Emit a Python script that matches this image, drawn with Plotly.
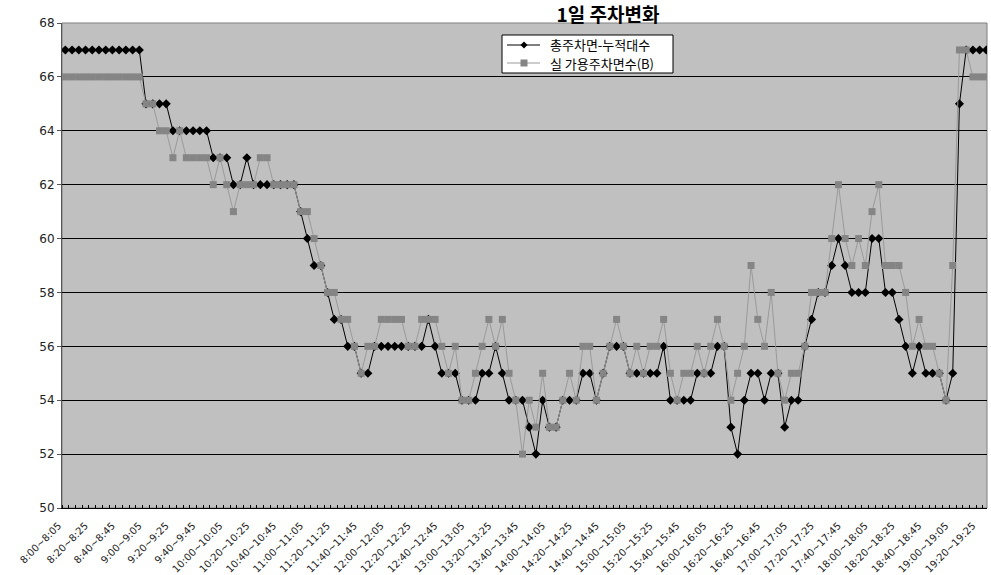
import plotly.graph_objects as go

# 5-minute time slots starting at 8:00
slots = [
    f"{(480 + 5 * i) // 60}:{(480 + 5 * i) % 60:02d}~{(485 + 5 * i) // 60}:{(485 + 5 * i) % 60:02d}"
    for i in range(138)
]

# 총주차면-누적대수
total_minus_cum = [
    67, 67, 67, 67, 67, 67, 67, 67, 67, 67, 67, 67,
    65, 65, 65, 65,
    64, 64, 64, 64, 64, 64,
    63, 63, 63,
    62, 62, 63, 62, 62, 62, 62, 62, 62, 62,
    61, 60, 59, 59, 58, 57, 57, 56, 56, 55, 55,
    56, 56, 56, 56, 56, 56, 56, 56,
    57, 56, 55, 55, 55, 54, 54, 54, 55, 55, 56, 55,
    54, 54, 54, 53, 52, 54, 53, 53, 54, 54, 54, 55, 55, 54, 55,
    56, 56, 56, 55, 55, 55, 55, 55, 56, 54, 54, 54, 54,
    55, 55, 55, 56, 56, 53, 52, 54, 55, 55, 54, 55, 55, 53, 54, 54,
    56, 57, 58, 58, 59, 60, 59, 58, 58, 58, 60, 60, 58, 58, 57, 56, 55, 56,
    55, 55, 55, 54, 55, 65, 67, 67, 67, 67,
]

# 실 가용주차면수(B)
available = [
    66, 66, 66, 66, 66, 66, 66, 66, 66, 66, 66, 66,
    65, 65, 64, 64, 63, 64, 63, 63, 63, 63,
    62, 63, 62, 61, 62, 62, 62, 63, 63, 62, 62, 62, 62,
    61, 61, 60, 59, 58, 58, 57, 57, 56, 55, 56, 56,
    57, 57, 57, 57, 56, 56, 57, 57, 57, 56, 55, 56, 54, 54,
    55, 56, 57, 56, 57, 55, 54, 52, 54, 53, 55, 53, 53, 54, 55, 54,
    56, 56, 54, 55, 56, 57, 56, 55, 56, 55, 56, 56, 57, 55, 54,
    55, 55, 56, 55, 56, 57, 56, 54, 55, 56, 59, 57, 56, 58, 55, 54,
    55, 55, 56, 58, 58, 58, 60, 62, 60, 59, 60, 59, 61, 62,
    59, 59, 59, 58, 56, 57, 56, 56, 55, 54, 59, 67, 67, 66, 66, 66,
]

series_names = ["총주차면-누적대수", "실 가용주차면수(B)"]
y_ticks = [50, 52, 54, 56, 58, 60, 62, 64, 66, 68]
label_step = 4

x_idx = list(range(len(slots)))
font_kr = "Noto Sans CJK KR"

BLACK = "#000000"
GREY_LINE = "#9a9a9a"
GREY_MARK = "#858585"

# figure / plot-area geometry in pixels
W, H = 991, 575
L, R, T, B = 62, 4, 23, 67
PW, PH = W - L - R, H - T - B


def px(x):
    return (x - L) / PW


def py(y):
    return (H - B - y) / PH


fig = go.Figure()

fig.add_trace(go.Scatter(
    x=x_idx, y=total_minus_cum, name=series_names[0],
    mode="lines+markers", showlegend=False,
    line=dict(color=BLACK, width=1),
    marker=dict(symbol="diamond", size=7, color=BLACK),
))

fig.add_trace(go.Scatter(
    x=x_idx, y=available, name=series_names[1],
    mode="lines+markers", showlegend=False,
    line=dict(color=GREY_LINE, width=1),
    marker=dict(symbol="square", size=7, color=GREY_MARK),
))

tick_pos = x_idx[::label_step]
tick_txt = slots[::label_step]

fig.update_layout(
    width=W, height=H,
    margin=dict(l=L, r=R, t=T, b=B),
    paper_bgcolor="#ffffff",
    plot_bgcolor="#c0c0c0",
    font=dict(family=font_kr, color="#222222"),
    title=dict(
        text="<b>1일 주차변화</b>",
        x=0.6135, xanchor="center",
        y=0.973, yanchor="middle",
        font=dict(size=19, color=BLACK, family=font_kr),
    ),
    xaxis=dict(
        range=[-0.5, 137.1], automargin=False,
        tickmode="array", tickvals=tick_pos, ticktext=tick_txt,
        tickangle=-45, tickfont=dict(size=10, color="#222222", family="DejaVu Sans"),
        ticklabelshift=-7, ticklabelstandoff=7,
        ticks="", showgrid=False, zeroline=False,
        showline=True, linecolor=BLACK, linewidth=1,
        minor=dict(ticks="inside", tickmode="linear", tick0=0.5, dtick=1,
                   ticklen=3, tickcolor=BLACK, tickwidth=1, showgrid=False),
    ),
    yaxis=dict(
        range=[50, 68], automargin=False, tickmode="array", tickvals=y_ticks,
        tickfont=dict(size=12, color="#222222", family="DejaVu Sans"),
        ticks="outside", ticklen=4, tickcolor="#555555",
        showgrid=True, gridcolor=BLACK, gridwidth=1,
        zeroline=False, showline=True, linecolor="#555555", linewidth=1,
    ),
)

# plot-area border
fig.add_shape(type="rect", xref="paper", yref="paper", x0=0, x1=1, y0=0, y1=1,
              line=dict(color="#808080", width=1), layer="below")

# legend box
lx0, lx1, ly0, ly1 = 502, 673, 35, 73
fig.add_shape(type="rect", xref="paper", yref="paper",
              x0=px(lx0), x1=px(lx1), y0=py(ly1), y1=py(ly0),
              line=dict(color=BLACK, width=1), fillcolor="#ffffff", layer="above")

rows = [45, 63]
sym_x0, sym_x1, sym_c = 507, 540, 524
for k, (ry, name) in enumerate(zip(rows, series_names)):
    col = BLACK if k == 0 else GREY_LINE
    fig.add_shape(type="line", xref="paper", yref="paper",
                  x0=px(sym_x0), x1=px(sym_x1), y0=py(ry), y1=py(ry),
                  line=dict(color=col, width=1), layer="above")
    s = 3.5
    if k == 0:
        path = (f"M {px(sym_c - s)},{py(ry)} L {px(sym_c)},{py(ry - s)} "
                f"L {px(sym_c + s)},{py(ry)} L {px(sym_c)},{py(ry + s)} Z")
        fig.add_shape(type="path", xref="paper", yref="paper", path=path,
                      fillcolor=BLACK, line=dict(color=BLACK, width=0), layer="above")
    else:
        fig.add_shape(type="rect", xref="paper", yref="paper",
                      x0=px(sym_c - s), x1=px(sym_c + s),
                      y0=py(ry + s), y1=py(ry - s),
                      fillcolor=GREY_MARK, line=dict(color=GREY_MARK, width=0), layer="above")
    fig.add_annotation(x=px(548), y=py(ry), xref="paper", yref="paper",
                       xanchor="left", yanchor="middle", showarrow=False,
                       text=name, font=dict(size=13, color=BLACK, family=font_kr))

fig.write_html("out.html")
